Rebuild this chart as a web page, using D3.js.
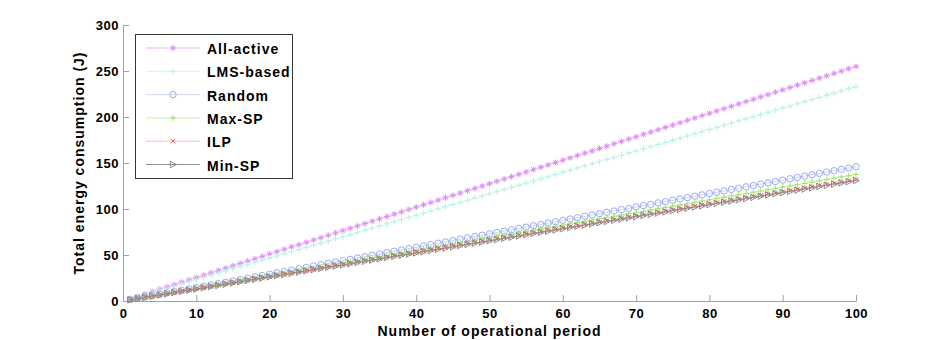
<!DOCTYPE html>
<html>
<head>
<meta charset="utf-8">
<script src="https://cdn.jsdelivr.net/npm/d3@7"></script>
<style>
  body { margin: 0; background: #fff; }
  text { font-family: "Liberation Sans", Arial, sans-serif; }
</style>
</head>
<body>
<div id="chart-area"></div>
<script>
// Data
let periods = d3.range(1, 101);
let allActive = [2.6, 5.1, 7.7, 10.2, 12.8, 15.3, 17.9, 20.4, 23.0, 25.5,
  28.1, 30.6, 33.2, 35.7, 38.3, 40.8, 43.4, 45.9, 48.5, 51.0,
  53.6, 56.1, 58.7, 61.2, 63.8, 66.3, 68.9, 71.4, 74.0, 76.5,
  79.1, 81.6, 84.2, 86.7, 89.3, 91.8, 94.4, 96.9, 99.5, 102.0,
  104.6, 107.1, 109.7, 112.2, 114.8, 117.3, 119.9, 122.4, 125.0, 127.5,
  130.1, 132.6, 135.2, 137.7, 140.3, 142.8, 145.4, 147.9, 150.5, 153.0,
  155.6, 158.1, 160.7, 163.2, 165.8, 168.3, 170.9, 173.4, 176.0, 178.5,
  181.1, 183.6, 186.2, 188.7, 191.3, 193.8, 196.4, 198.9, 201.5, 204.0,
  206.6, 209.1, 211.7, 214.2, 216.8, 219.3, 221.9, 224.4, 227.0, 229.5,
  232.1, 234.6, 237.2, 239.7, 242.3, 244.8, 247.4, 249.9, 252.5, 255.0];
let lmsBased = [2.3, 4.7, 7.0, 9.3, 11.7, 14.0, 16.3, 18.6, 21.0, 23.3,
  25.6, 28.0, 30.3, 32.6, 35.0, 37.3, 39.6, 41.9, 44.3, 46.6,
  48.9, 51.3, 53.6, 55.9, 58.3, 60.6, 62.9, 65.2, 67.6, 69.9,
  72.2, 74.6, 76.9, 79.2, 81.6, 83.9, 86.2, 88.5, 90.9, 93.2,
  95.5, 97.9, 100.2, 102.5, 104.9, 107.2, 109.5, 111.8, 114.2, 116.5,
  118.8, 121.2, 123.5, 125.8, 128.2, 130.5, 132.8, 135.1, 137.5, 139.8,
  142.1, 144.5, 146.8, 149.1, 151.5, 153.8, 156.1, 158.4, 160.8, 163.1,
  165.4, 167.8, 170.1, 172.4, 174.8, 177.1, 179.4, 181.7, 184.1, 186.4,
  188.7, 191.1, 193.4, 195.7, 198.1, 200.4, 202.7, 205.0, 207.4, 209.7,
  212.0, 214.4, 216.7, 219.0, 221.4, 223.7, 226.0, 228.3, 230.7, 233.0];
let random = [1.5, 2.9, 4.4, 5.8, 7.3, 8.8, 10.2, 11.7, 13.1, 14.6,
  16.1, 17.5, 19.0, 20.4, 21.9, 23.4, 24.8, 26.3, 27.7, 29.2,
  30.7, 32.1, 33.6, 35.0, 36.5, 38.0, 39.4, 40.9, 42.3, 43.8,
  45.3, 46.7, 48.2, 49.6, 51.1, 52.6, 54.0, 55.5, 56.9, 58.4,
  59.9, 61.3, 62.8, 64.2, 65.7, 67.2, 68.6, 70.1, 71.5, 73.0,
  74.5, 75.9, 77.4, 78.8, 80.3, 81.8, 83.2, 84.7, 86.1, 87.6,
  89.1, 90.5, 92.0, 93.4, 94.9, 96.4, 97.8, 99.3, 100.7, 102.2,
  103.7, 105.1, 106.6, 108.0, 109.5, 111.0, 112.4, 113.9, 115.3, 116.8,
  118.3, 119.7, 121.2, 122.6, 124.1, 125.6, 127.0, 128.5, 129.9, 131.4,
  132.9, 134.3, 135.8, 137.2, 138.7, 140.2, 141.6, 143.1, 144.5, 146.0];
let maxSP = [1.4, 2.8, 4.1, 5.5, 6.9, 8.3, 9.6, 11.0, 12.4, 13.8,
  15.1, 16.5, 17.9, 19.3, 20.6, 22.0, 23.4, 24.8, 26.1, 27.5,
  28.9, 30.3, 31.6, 33.0, 34.4, 35.8, 37.1, 38.5, 39.9, 41.3,
  42.6, 44.0, 45.4, 46.8, 48.1, 49.5, 50.9, 52.3, 53.6, 55.0,
  56.4, 57.8, 59.1, 60.5, 61.9, 63.3, 64.6, 66.0, 67.4, 68.8,
  70.1, 71.5, 72.9, 74.3, 75.6, 77.0, 78.4, 79.8, 81.1, 82.5,
  83.9, 85.3, 86.6, 88.0, 89.4, 90.8, 92.1, 93.5, 94.9, 96.3,
  97.6, 99.0, 100.4, 101.8, 103.1, 104.5, 105.9, 107.3, 108.6, 110.0,
  111.4, 112.8, 114.1, 115.5, 116.9, 118.3, 119.6, 121.0, 122.4, 123.8,
  125.1, 126.5, 127.9, 129.3, 130.6, 132.0, 133.4, 134.8, 136.1, 137.5];
let ilp = [1.3, 2.6, 4.0, 5.3, 6.6, 7.9, 9.2, 10.6, 11.9, 13.2,
  14.5, 15.8, 17.2, 18.5, 19.8, 21.1, 22.4, 23.8, 25.1, 26.4,
  27.7, 29.0, 30.4, 31.7, 33.0, 34.3, 35.6, 37.0, 38.3, 39.6,
  40.9, 42.2, 43.6, 44.9, 46.2, 47.5, 48.8, 50.2, 51.5, 52.8,
  54.1, 55.4, 56.8, 58.1, 59.4, 60.7, 62.0, 63.4, 64.7, 66.0,
  67.3, 68.6, 70.0, 71.3, 72.6, 73.9, 75.2, 76.6, 77.9, 79.2,
  80.5, 81.8, 83.2, 84.5, 85.8, 87.1, 88.4, 89.8, 91.1, 92.4,
  93.7, 95.0, 96.4, 97.7, 99.0, 100.3, 101.6, 103.0, 104.3, 105.6,
  106.9, 108.2, 109.6, 110.9, 112.2, 113.5, 114.8, 116.2, 117.5, 118.8,
  120.1, 121.4, 122.8, 124.1, 125.4, 126.7, 128.0, 129.4, 130.7, 132.0];
let minSP = [1.3, 2.6, 3.9, 5.2, 6.5, 7.9, 9.2, 10.5, 11.8, 13.1,
  14.4, 15.7, 17.0, 18.3, 19.7, 21.0, 22.3, 23.6, 24.9, 26.2,
  27.5, 28.8, 30.1, 31.4, 32.8, 34.1, 35.4, 36.7, 38.0, 39.3,
  40.6, 41.9, 43.2, 44.5, 45.9, 47.2, 48.5, 49.8, 51.1, 52.4,
  53.7, 55.0, 56.3, 57.6, 59.0, 60.3, 61.6, 62.9, 64.2, 65.5,
  66.8, 68.1, 69.4, 70.7, 72.1, 73.4, 74.7, 76.0, 77.3, 78.6,
  79.9, 81.2, 82.5, 83.8, 85.2, 86.5, 87.8, 89.1, 90.4, 91.7,
  93.0, 94.3, 95.6, 96.9, 98.3, 99.6, 100.9, 102.2, 103.5, 104.8,
  106.1, 107.4, 108.7, 110.0, 111.4, 112.7, 114.0, 115.3, 116.6, 117.9,
  119.2, 120.5, 121.8, 123.1, 124.5, 125.8, 127.1, 128.4, 129.7, 131.0];

let seriesNames = ['All-active', 'LMS-based', 'Random', 'Max-SP', 'ILP', 'Min-SP'];
let seriesValues = [allActive, lmsBased, random, maxSP, ilp, minSP];
let xTicks = [0, 10, 20, 30, 40, 50, 60, 70, 80, 90, 100];
let yTicks = [0, 50, 100, 150, 200, 250, 300];

// Styles per series
let styles = [
  { line: '#edb8f8', mark: '#dc8cf4', shape: 'star' },
  { line: '#d2f8ee', mark: '#b4f2e2', shape: 'plus' },
  { line: '#d0d6f8', mark: '#8ea0f2', shape: 'circle' },
  { line: '#c6f49c', mark: '#9ee668', shape: 'plus' },
  { line: '#ffbcbc', mark: '#f25050', shape: 'cross' },
  { line: '#909090', mark: '#808080', shape: 'tri' }
];

// SVG drawing area
let margin = { top: 25, right: 88, bottom: 39, left: 123 };
let width = 944 - margin.left - margin.right,
  height = 340 - margin.top - margin.bottom;

let svg = d3
  .select('#chart-area')
  .append('svg')
  .attr('width', 944)
  .attr('height', 340)
  .append('g')
  .attr('transform', 'translate(' + margin.left + ',' + margin.top + ')');

// Scales
let x = d3.scaleLinear().domain([0, 100]).range([0, width]);
let y = d3.scaleLinear().domain([0, 300]).range([height, 0]);

// Axes (MATLAB style ticks pointing inward)
let xAxis = svg
  .append('g')
  .attr('transform', `translate(0, ${height})`)
  .call(d3.axisBottom(x).tickValues(xTicks).tickSizeInner(-6).tickSizeOuter(0).tickPadding(8));
let yAxis = svg
  .append('g')
  .call(d3.axisLeft(y).tickValues(yTicks).tickSizeInner(-6).tickSizeOuter(0).tickPadding(4));

[xAxis, yAxis].forEach(function(a) {
  a.select('.domain').attr('stroke', '#a0a0a0');
  a.selectAll('.tick line').attr('stroke', '#a0a0a0');
  a.selectAll('.tick text')
    .attr('fill', '#000')
    .style('font-size', '13px')
    .style('font-weight', 'bold')
    .style('letter-spacing', '0.5px');
});

// Axis labels
svg
  .append('text')
  .attr('x', width / 2)
  .attr('y', height + 35)
  .attr('text-anchor', 'middle')
  .style('font-size', '14px')
  .style('font-weight', 'bold')
  .style('letter-spacing', '1px')
  .text('Number of operational period');

svg
  .append('text')
  .attr('transform', `translate(-39, ${height / 2}) rotate(-90)`)
  .attr('text-anchor', 'middle')
  .style('font-size', '14px')
  .style('font-weight', 'bold')
  .style('letter-spacing', '1px')
  .text('Total energy consumption (J)');

// Marker drawing
function drawMarker(g, shape, color) {
  if (shape === 'star') {
    g.append('path').attr('d', 'M-3,0H3M0,-3V3M-2.2,-2.2L2.2,2.2M-2.2,2.2L2.2,-2.2')
      .attr('stroke', color).attr('stroke-width', 1).attr('fill', 'none');
  } else if (shape === 'plus') {
    g.append('path').attr('d', 'M-3,0H3M0,-3V3')
      .attr('stroke', color).attr('stroke-width', 1).attr('fill', 'none');
  } else if (shape === 'cross') {
    g.append('path').attr('d', 'M-2.2,-2.2L2.2,2.2M-2.2,2.2L2.2,-2.2')
      .attr('stroke', color).attr('stroke-width', 1).attr('fill', 'none');
  } else if (shape === 'circle') {
    g.append('circle').attr('r', 3.2)
      .attr('stroke', color).attr('stroke-width', 0.9).attr('fill', 'none');
  } else if (shape === 'tri') {
    g.append('path').attr('d', 'M-2.6,-3.3L3.4,0L-2.6,3.3Z')
      .attr('stroke', color).attr('stroke-width', 0.9).attr('fill', 'none');
  }
}

// Lines and markers
let line = d3
  .line()
  .x(d => x(d.t))
  .y(d => y(d.v));

seriesValues.forEach(function(vals, i) {
  let data = vals.map((v, j) => ({ t: periods[j], v: v }));
  let st = styles[i];
  svg
    .append('path')
    .datum(data)
    .attr('fill', 'none')
    .attr('stroke', st.line)
    .attr('stroke-width', 1)
    .attr('d', line);
  data.forEach(function(d) {
    let g = svg.append('g').attr('transform', `translate(${x(d.t)},${y(d.v)})`);
    drawMarker(g, st.shape, st.mark);
  });
});

// Legend
let legend = svg.append('g').attr('transform', 'translate(12, 9)');
legend
  .append('rect')
  .attr('x', 0.5)
  .attr('y', 0.5)
  .attr('width', 157)
  .attr('height', 144)
  .attr('fill', '#fff')
  .attr('stroke', '#333')
  .attr('stroke-width', 1);

seriesNames.forEach(function(name, i) {
  let st = styles[i];
  let ly = 14 + i * 23.3;
  legend
    .append('line')
    .attr('x1', 11)
    .attr('x2', 65)
    .attr('y1', ly)
    .attr('y2', ly)
    .attr('stroke', st.line)
    .attr('stroke-width', 1);
  let g = legend.append('g').attr('transform', `translate(38, ${ly})`);
  drawMarker(g, st.shape, st.mark);
  legend
    .append('text')
    .attr('x', 72)
    .attr('y', ly + 6)
    .style('font-size', '14px')
    .style('font-weight', 'bold')
    .style('letter-spacing', '1px')
    .text(name);
});
</script>
</body>
</html>
